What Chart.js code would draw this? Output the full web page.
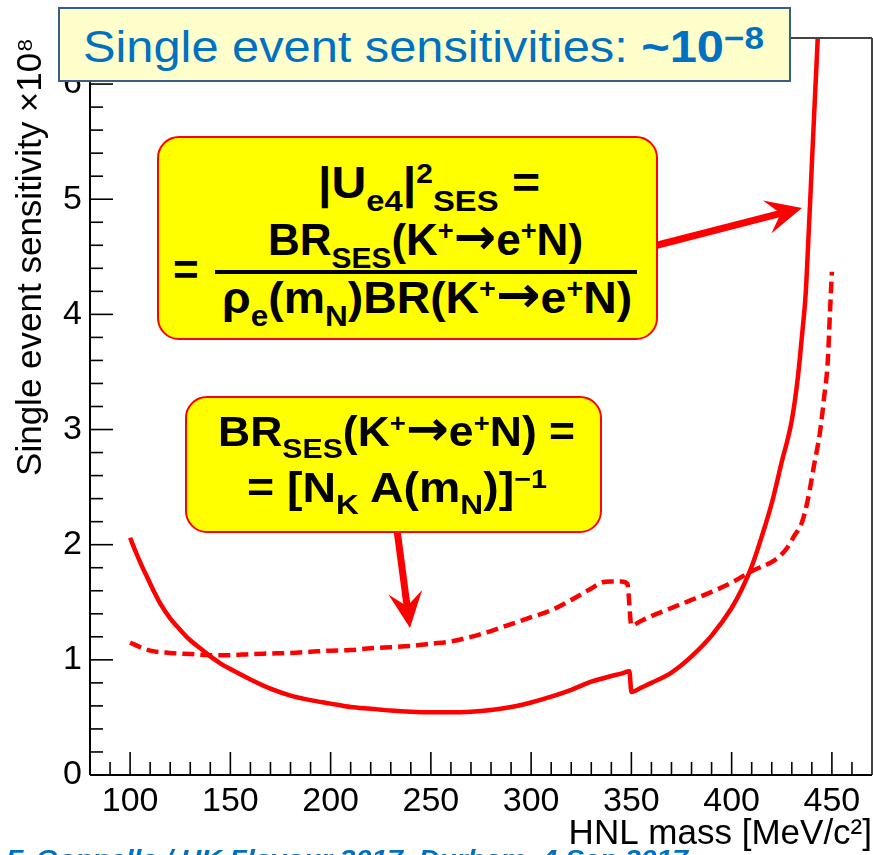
<!DOCTYPE html>
<html>
<head>
<meta charset="utf-8">
<script src="https://cdn.jsdelivr.net/npm/chart.js@4.4.1/dist/chart.umd.min.js"></script>
<style>
html, body { margin: 0; padding: 0; background: #fff; overflow: hidden; }
#wrap { position: relative; width: 873px; height: 855px; overflow: hidden; }
#chart { position: absolute; left: 0; top: 0; }
.box { position: absolute; box-sizing: border-box; }
#titleBox { left: 58px; top: 7px; width: 733px; height: 75px; background: #ffffcc; border: 2px solid #385d8a; }
.ybox { background: #ffff00; border: 2px solid #ff0000; border-radius: 22px; }
#box1 { left: 157px; top: 136px; width: 501px; height: 204px; }
#box2 { left: 185px; top: 396px; width: 417px; height: 137px; }
#fracBar { position: absolute; left: 215px; top: 270px; width: 422px; height: 4px; background: #000; }
.ln { position: absolute; left: 0; top: 0; white-space: nowrap; line-height: 1; font-family: 'Liberation Sans', Arial, sans-serif; transform-origin: 0 0; }
.fm { font-weight: bold; color: #000; }
.ttl { color: #0070c0; }
.foot { color: #0070c0; font-weight: bold; font-style: italic; }
.sb { font-size: .68em; position: relative; top: .42em; }
.sp { font-size: .62em; position: relative; top: -.55em; }
.tsp { font-size: .72em; position: relative; top: -.42em; }
.ar { font-family: 'DejaVu Sans', sans-serif; font-size: 1.15em; position: relative; top: -.02em; }
.mk { display: inline-block; width: 0; height: 0; }
</style>
</head>
<body>
<div id="wrap">
  <canvas id="chart" width="873" height="855"></canvas>

  <div class="box" id="titleBox"></div>
  <div class="ln ttl" data-x="83" data-b="62" data-w="681" data-f="44">Single event sensitivities: <b>~10<span class="tsp">&minus;8</span></b><span class="mk"></span></div>

  <div class="box ybox" id="box1"></div>
  <div class="ln fm" data-x="318" data-b="198" data-w="222" data-f="44">|U<span class="sb">e4</span>|<span class="sp">2</span><span class="sb">SES</span> =<span class="mk"></span></div>
  <div class="ln fm" data-x="268" data-b="255" data-w="315" data-f="44">BR<span class="sb">SES</span>(K<span class="sp">+</span><span class="ar">&rarr;</span>e<span class="sp">+</span>N)<span class="mk"></span></div>
  <div id="fracBar"></div>
  <div class="ln fm" data-x="173" data-b="285" data-f="44">=<span class="mk"></span></div>
  <div class="ln fm" data-x="222" data-b="313" data-w="410" data-f="44">&rho;<span class="sb">e</span>(m<span class="sb">N</span>)BR(K<span class="sp">+</span><span class="ar">&rarr;</span>e<span class="sp">+</span>N)<span class="mk"></span></div>

  <div class="box ybox" id="box2"></div>
  <div class="ln fm" data-x="218" data-b="446" data-w="357" data-f="42">BR<span class="sb">SES</span>(K<span class="sp">+</span><span class="ar">&rarr;</span>e<span class="sp">+</span>N) =<span class="mk"></span></div>
  <div class="ln fm" data-x="247" data-b="502" data-w="300" data-f="42">= [N<span class="sb">K</span> A(m<span class="sb">N</span>)]<span class="sp">&minus;1</span><span class="mk"></span></div>

  <div class="ln foot" data-x="6" data-b="867" data-w="682" data-f="24">F. Gonnella / UK Flavour 2017, Durham, 4 Sep 2017<span class="mk"></span></div>
</div>

<script>
// HNL mass [MeV/c^2]
var massSolid = [100, 103, 106, 109, 112, 115, 120, 125, 130, 135, 140, 145, 150,
    160, 170, 180, 190, 200, 210, 220, 230, 240, 250, 260, 270, 280, 290, 300, 310, 320, 330, 340,
    345, 349, 350, 355, 360, 370, 380, 390, 400, 405, 410, 415, 420, 425, 430,
    433, 435, 437, 438, 439, 440, 441, 442, 443];
// single event sensitivity x1e8, solid curve
var sesSolid = [2.06, 1.93, 1.81, 1.70, 1.59, 1.49, 1.36, 1.26, 1.17, 1.10, 1.03, 0.97, 0.92,
    0.83, 0.75, 0.69, 0.65, 0.62, 0.59, 0.575, 0.56, 0.55, 0.545, 0.545, 0.55, 0.565, 0.59, 0.63, 0.68, 0.74, 0.81, 0.86,
    0.88, 0.90, 0.72, 0.76, 0.80, 0.89, 1.03, 1.21, 1.45, 1.61, 1.81, 2.07, 2.36, 2.72, 3.08,
    3.45, 3.80, 4.20, 4.55, 4.92, 5.30, 5.68, 6.05, 6.42];

// dashed curve
var massDashed = [100, 105, 110, 120, 130, 140, 150, 160, 170, 180, 190, 200, 210, 220, 230, 240,
    250, 260, 270, 280, 290, 300, 310, 320, 330, 335, 340, 345, 348, 350, 355, 360,
    370, 380, 390, 400, 410, 420, 424, 428, 431, 435, 438, 441, 444, 446, 448, 449, 450];
var sesDashed = [1.15, 1.11, 1.08, 1.06, 1.05, 1.04, 1.04, 1.05, 1.055, 1.06, 1.07, 1.08, 1.085, 1.10, 1.11, 1.12,
    1.14, 1.16, 1.20, 1.25, 1.31, 1.37, 1.43, 1.52, 1.62, 1.67, 1.68, 1.68, 1.66, 1.30, 1.34, 1.38,
    1.45, 1.52, 1.59, 1.67, 1.77, 1.85, 1.90, 1.98, 2.07, 2.19, 2.39, 2.68, 2.97, 3.26, 3.61, 4.00, 4.37];

var xTicks = [100, 150, 200, 250, 300, 350, 400, 450];
var yTicks = [0, 1, 2, 3, 4, 5, 6];

var FONT = 'Liberation Sans';

function toPoints(xs, ys) {
    return xs.map(function (x, i) { return { x: x, y: ys[i] }; });
}

function drawLine(ctx, x0, y0, x1, y1) {
    ctx.beginPath();
    ctx.moveTo(x0, y0);
    ctx.lineTo(x1, y1);
    ctx.stroke();
}

// barbed arrow like the powerpoint ones
function drawArrow(ctx, x0, y0, x1, y1) {
    var dx = x1 - x0, dy = y1 - y0;
    var len = Math.sqrt(dx * dx + dy * dy);
    var ux = dx / len, uy = dy / len;
    var nx = -uy, ny = ux;
    var back = 36, half = 17, notch = 22;
    ctx.lineWidth = 7;
    drawLine(ctx, x0, y0, x1 - notch * ux, y1 - notch * uy);
    ctx.beginPath();
    ctx.moveTo(x1, y1);
    ctx.lineTo(x1 - back * ux + half * nx, y1 - back * uy + half * ny);
    ctx.lineTo(x1 - notch * ux, y1 - notch * uy);
    ctx.lineTo(x1 - back * ux - half * nx, y1 - back * uy - half * ny);
    ctx.closePath();
    ctx.fill();
}

// ROOT style frame: ticks inside, plain box
var rootFrame = {
    id: 'rootFrame',
    afterDraw: function (chart) {
        var ctx = chart.ctx, a = chart.chartArea;
        var xs = chart.scales.x, ys = chart.scales.y;
        ctx.save();
        ctx.lineCap = 'butt';
        ctx.strokeStyle = '#444';
        ctx.lineWidth = 2;
        drawLine(ctx, a.left, a.top, a.right, a.top);
        drawLine(ctx, a.right, a.top, a.right, a.bottom);
        ctx.strokeStyle = '#000';
        drawLine(ctx, a.left, a.top, a.left, a.bottom);
        drawLine(ctx, a.left, a.bottom, a.right, a.bottom);

        ctx.lineWidth = 1.6;
        for (var v = 90; v <= 460; v += 10) {
            var px = xs.getPixelForValue(v);
            drawLine(ctx, px, a.bottom, px, a.bottom - (v % 50 === 0 ? 23 : 13));
        }
        for (var k = 1; k <= 32; k++) {
            var py = ys.getPixelForValue(k * 0.2);
            drawLine(ctx, a.left, py, a.left + (k % 5 === 0 ? 23 : 13), py);
        }

        ctx.strokeStyle = '#ff0000';
        ctx.fillStyle = '#ff0000';
        drawArrow(ctx, 650, 247, 802, 208);
        drawArrow(ctx, 397, 530, 410, 628);
        ctx.restore();
    }
};

new Chart(document.getElementById('chart'), {
    type: 'line',
    data: {
        datasets: [{
            data: toPoints(massSolid, sesSolid),
            borderColor: '#ff0000',
            borderWidth: 4.5,
            pointRadius: 0,
            cubicInterpolationMode: 'monotone',
            fill: false
        }, {
            data: toPoints(massDashed, sesDashed),
            borderColor: '#ff0000',
            borderWidth: 4.5,
            borderDash: [12, 6],
            pointRadius: 0,
            cubicInterpolationMode: 'monotone',
            fill: false
        }]
    },
    options: {
        responsive: false,
        animation: false,
        events: [],
        layout: { padding: { top: 38, right: 1, left: 0, bottom: 0 } },
        plugins: {
            legend: { display: false },
            tooltip: { enabled: false }
        },
        scales: {
            x: {
                type: 'linear',
                min: 80,
                max: 470,
                grid: { display: false, drawTicks: false },
                border: { display: false },
                ticks: { font: { family: FONT, size: 34 }, color: '#000', padding: 6, autoSkip: false, maxRotation: 0 },
                afterBuildTicks: function (s) { s.ticks = xTicks.map(function (v) { return { value: v }; }); },
                afterFit: function (s) { s.height = 80; },
                title: { display: true, text: 'HNL mass [MeV/c²]', align: 'end', color: '#000', font: { family: FONT, size: 35 }, padding: 0 }
            },
            y: {
                type: 'linear',
                min: 0,
                max: 6.4,
                grid: { display: false, drawTicks: false },
                border: { display: false },
                ticks: { font: { family: FONT, size: 34 }, color: '#000', padding: 8, autoSkip: false },
                afterBuildTicks: function (s) { s.ticks = yTicks.map(function (v) { return { value: v }; }); },
                afterFit: function (s) { s.width = 90; },
                title: { display: true, text: 'Single event sensitivity ×10⁸', align: 'end', color: '#000', font: { family: FONT, size: 35 }, padding: { top: 10, bottom: 0 } }
            }
        }
    },
    plugins: [rootFrame]
});

// place the text lines on their baselines and squeeze them to the measured widths
document.querySelectorAll('.ln').forEach(function (el) {
    el.style.fontSize = el.dataset.f + 'px';
    var base = el.querySelector('.mk').offsetTop;
    var w = el.getBoundingClientRect().width;
    var sx = el.dataset.w ? el.dataset.w / w : 1;
    el.style.left = el.dataset.x + 'px';
    el.style.top = (el.dataset.b - base) + 'px';
    el.style.transform = 'scaleX(' + sx.toFixed(3) + ')';
});
</script>
</body>
</html>
